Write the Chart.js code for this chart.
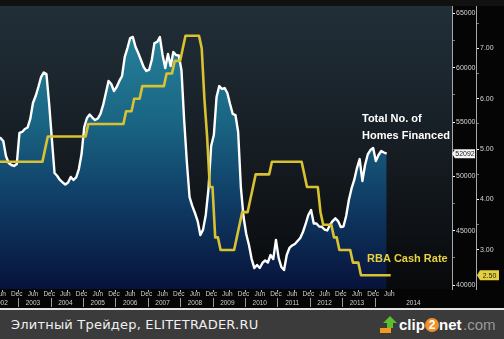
<!DOCTYPE html>
<html><head><meta charset="utf-8">
<script src="https://cdn.jsdelivr.net/npm/chart.js@4/dist/chart.umd.min.js"></script>
<style>
html,body{margin:0;padding:0;background:#000;width:504px;height:339px;overflow:hidden}
#wrap{position:relative;width:504px;height:308px;background:#050505}
#sep{height:2px;background:#e4e4e4}
#banner{position:relative;height:29px;background:#3b3b3b;overflow:hidden}
#bt{position:absolute;left:11px;top:0;line-height:29px;font-family:"DejaVu Sans",sans-serif;font-size:13px;color:#f0f0f0;letter-spacing:0.2px}
#logo{position:absolute;left:380px;top:5px;height:20px;font-family:"Liberation Sans",Arial,sans-serif;font-size:15px;line-height:20px;white-space:nowrap}
#logo svg{position:absolute;left:0;top:1px}
#logo .c{position:absolute;color:#fff;font-weight:bold}
#logo .two{position:absolute;left:45px;top:3px;width:14px;height:14px;border-radius:7px;background:#f0902a;color:#fff;font-weight:bold;font-size:12px;line-height:14px;text-align:center}
#logo .com{position:absolute;left:83px;color:#9a9a9a}
</style></head>
<body>
<div id="wrap"><canvas id="c" width="504" height="308"></canvas></div>
<div id="sep"></div>
<div id="banner">
  <span id="bt">Элитный Трейдер, ELITETRADER.RU</span>
  <div id="logo">
    <svg width="17" height="18" viewBox="0 0 17 18"><rect x="0" y="12" width="11" height="5" fill="#f39a1e"/><polygon points="10,0 17,7 13,7 13,12 7,12 7,7 3,7" fill="#5fbb30"/></svg>
    <span class="c" style="left:19px">clip</span><span class="two">2</span><span class="c" style="left:59px">net</span><span class="com">.com</span>
  </div>
</div>
<script>
// ---- DATA ----
// Total number of homes financed, monthly, starting May 2002
const homesStartYear = 2002, homesStartMonth = 5;
const homesFinanced = [
  53540, 53540, 53260, 51880, 51230, 51050, 50960, 51140,
  54000, 54090, 54370, 54500, 55290, 56760, 57400, 58230, 59150, 59570, 59430, 56670,
  53440, 50310, 50040, 49670, 49440, 49250, 49440, 49950, 49670, 49900, 50680, 52060,
  54550, 55380, 55700, 55420, 55190, 55330, 55750, 56580, 57680, 58790, 58510, 57860,
  58230, 58790, 59250, 61000, 61820, 62740, 62840, 61920, 61360, 60720, 60070, 59710,
  59800, 60720, 62280, 62380, 62840, 61180, 59980, 61270, 60170, 61460, 61180, 61130,
  59800, 55190, 51330, 48100, 47280, 46630, 45890, 44600, 45100, 46450, 48840, 52800,
  53810, 57310, 58320, 58050, 58140, 57680, 56670, 55750, 55650, 54090, 49020, 46260,
  44700, 43680, 42390, 41560, 41840, 41570, 42030, 42260, 42070, 42760, 42390, 44140,
  42490, 41660, 41380, 42760, 43410, 43640, 43780, 44050, 44330, 44880, 45620, 46450,
  46910, 45660, 45660, 45390, 45360, 45110, 45020, 45530, 45890, 46140, 45890, 45340,
  45390, 46350, 47830, 48890, 49670, 50770, 51600, 49580, 51050, 52020, 52430, 52620,
  51420, 51970, 52340, 52200, 52092
];
// RBA cash rate, monthly, starting May 2002
const rateStartYear = 2002, rateStartMonth = 5;
const rbaCashRate = [
  4.50, 4.75, 4.75, 4.75, 4.75, 4.75, 4.75, 4.75,
  4.75, 4.75, 4.75, 4.75, 4.75, 4.75, 4.75, 4.75, 4.75, 4.75, 5.00, 5.25,
  5.25, 5.25, 5.25, 5.25, 5.25, 5.25, 5.25, 5.25, 5.25, 5.25, 5.25, 5.25,
  5.25, 5.25, 5.50, 5.50, 5.50, 5.50, 5.50, 5.50, 5.50, 5.50, 5.50, 5.50,
  5.50, 5.50, 5.50, 5.50, 5.75, 5.75, 5.75, 6.00, 6.00, 6.00, 6.25, 6.25,
  6.25, 6.25, 6.25, 6.25, 6.25, 6.25, 6.25, 6.50, 6.50, 6.50, 6.75, 6.75,
  6.75, 7.00, 7.25, 7.25, 7.25, 7.25, 7.25, 7.25, 7.00, 6.00, 5.25, 4.25,
  4.25, 3.25, 3.25, 3.00, 3.00, 3.00, 3.00, 3.00, 3.00, 3.25, 3.50, 3.75,
  3.75, 3.75, 4.00, 4.25, 4.50, 4.50, 4.50, 4.50, 4.50, 4.50, 4.75, 4.75,
  4.75, 4.75, 4.75, 4.75, 4.75, 4.75, 4.75, 4.75, 4.75, 4.75, 4.50, 4.25,
  4.25, 4.25, 4.25, 4.25, 3.75, 3.50, 3.50, 3.50, 3.50, 3.25, 3.25, 3.00,
  3.00, 3.00, 3.00, 3.00, 2.75, 2.75, 2.75, 2.50, 2.50, 2.50, 2.50, 2.50,
  2.50, 2.50, 2.50, 2.50, 2.50, 2.50, 2.50
];
// axis ticks / labels
const axisYears = [2002, 2003, 2004, 2005, 2006, 2007, 2008, 2009, 2010, 2011, 2012, 2013, 2014];
const halfYearNames = ['Jun', 'Dec'];
const lastYearLabel = '2014';
const homesTicks = [40000, 42500, 45000, 47500, 50000, 52500, 55000, 57500, 60000, 62500, 65000];
const rateTicks = [2.5, 3.0, 3.5, 4.0, 4.5, 5.0, 5.5, 6.0, 6.5, 7.0, 7.5];
const homesTitle = ['Total No. of', 'Homes Financed'];
const rateTitle = 'RBA Cash Rate';

// ---- BUILD ----
const homesPoints = homesFinanced.map((v, i) => ({ x: homesStartYear + (homesStartMonth - 0.5 + i) / 12, y: v }));
const ratePoints = rbaCashRate.map((v, i) => ({ x: rateStartYear + (rateStartMonth - 1 + i) / 12, y: v }));
const xTickValues = [], xTickLabels = [];
axisYears.forEach(y => {
  xTickValues.push(y + 5.5 / 12);
  xTickLabels.push([halfYearNames[0], y === 2014 ? '' : String(y)]);
  if (y < 2014) { xTickValues.push(y + 11.5 / 12); xTickLabels.push([halfYearNames[1], '']); }
});
xTickValues.push(2015.2); xTickLabels.push(['', lastYearLabel]);

const TICKFONT = { family: 'Liberation Sans', size: 7 };

const deco = {
  id: 'deco',
  beforeDraw(chart) {
    const { ctx, chartArea: a } = chart;
    ctx.save();
    ctx.fillStyle = '#111';
    ctx.fillRect(0, 0, chart.width, a.top);
    const g = ctx.createLinearGradient(0, a.top, 0, a.bottom);
    g.addColorStop(0, '#212f39');
    g.addColorStop(0.5, '#161d23');
    g.addColorStop(1, '#08090b');
    ctx.fillStyle = g;
    ctx.fillRect(a.left, a.top, a.right - a.left, a.bottom - a.top);
    ctx.restore();
  },
  afterDraw(chart) {
    const { ctx, chartArea: a, scales } = chart;
    const xs = scales.x, yH = scales.yH, yR = scales.yR;
    ctx.save();
    // year separators
    ctx.strokeStyle = '#9c9c9c'; ctx.lineWidth = 1;
    axisYears.forEach(y => {
      if (y === 2002) return;
      const px = Math.round(xs.getPixelForValue(y)) + 0.5;
      ctx.beginPath(); ctx.moveTo(px, a.bottom + 9); ctx.lineTo(px, a.bottom + 18); ctx.stroke();
    });
    // small half-year tick marks
    ctx.strokeStyle = '#bdbdbd';
    axisYears.forEach(y => {
      [y, y + 0.5].forEach(t => {
        if (t < xs.min || t > 2014.5) return;
        const px = Math.round(xs.getPixelForValue(t)) + 0.5;
        ctx.beginPath(); ctx.moveTo(px, a.bottom + 1); ctx.lineTo(px, a.bottom + 3); ctx.stroke();
      });
    });
    // annotations
    ctx.font = 'bold 11px "Liberation Sans"';
    ctx.textBaseline = 'alphabetic'; ctx.textAlign = 'left';
    ctx.fillStyle = '#ffffff';
    ctx.fillText(homesTitle[0], 362, 122);
    ctx.fillText(homesTitle[1], 362, 138.5);
    ctx.fillStyle = '#e9d23f';
    ctx.fillText(rateTitle, 367, 262);
    // last value boxes
    const lastH = homesFinanced[homesFinanced.length - 1];
    const yh = yH.getPixelForValue(lastH);
    ctx.fillStyle = '#f4f4f4';
    ctx.beginPath();
    ctx.moveTo(452, yh); ctx.lineTo(455, yh - 4.5); ctx.lineTo(475, yh - 4.5); ctx.lineTo(475, yh + 4.5); ctx.lineTo(455, yh + 4.5); ctx.closePath(); ctx.fill();
    ctx.fillStyle = '#222'; ctx.font = '7px "Liberation Sans"'; ctx.textAlign = 'center'; ctx.textBaseline = 'middle';
    ctx.fillText(String(lastH), 465, yh + 0.5);
    const lastR = rbaCashRate[rbaCashRate.length - 1];
    const yr = yR.getPixelForValue(lastR);
    ctx.fillStyle = '#e6cf3c';
    ctx.beginPath();
    ctx.moveTo(477, yr); ctx.lineTo(480, yr - 5); ctx.lineTo(499, yr - 5); ctx.lineTo(499, yr + 5); ctx.lineTo(480, yr + 5); ctx.closePath(); ctx.fill();
    ctx.fillStyle = '#222';
    ctx.fillText(lastR.toFixed(2), 489.5, yr + 0.5);
    ctx.restore();
  }
};

new Chart(document.getElementById('c'), {
  type: 'line',
  data: {
    datasets: [
      {
        label: 'RBA Cash Rate', data: ratePoints, yAxisID: 'yR', xAxisID: 'x',
        borderColor: '#d8c232', borderWidth: 2.6, pointRadius: 0, fill: false, order: 0,
        borderJoinStyle: 'round'
      },
      {
        label: 'Total No. of Homes Financed', data: homesPoints, yAxisID: 'yH', xAxisID: 'x',
        borderColor: '#ffffff', borderWidth: 2.4, pointRadius: 0, fill: 'start', order: 1,
        borderJoinStyle: 'round',
        backgroundColor: (c) => {
          const a = c.chart.chartArea;
          if (!a) return '#1a6682';
          const g = c.chart.ctx.createLinearGradient(0, a.top, 0, a.bottom);
          g.addColorStop(0, '#2a8aa1');
          g.addColorStop(0.4, '#1a6684');
          g.addColorStop(0.7, '#0f3b64');
          g.addColorStop(1, '#07123a');
          return g;
        }
      }
    ]
  },
  options: {
    responsive: false, animation: false, devicePixelRatio: 1,
    layout: { padding: { top: 6, left: 0, right: 0, bottom: 0 } },
    plugins: { legend: { display: false }, tooltip: { enabled: false } },
    scales: {
      x: {
        type: 'linear', position: 'bottom', min: 2002.441, max: 2016.392,
        grid: { display: false, drawTicks: false }, border: { display: false },
        afterBuildTicks: s => { s.ticks = xTickValues.map(v => ({ value: v })); },
        ticks: {
          autoSkip: false, maxRotation: 0, minRotation: 0, padding: 0.5, color: '#cfcfcf',
          font: { family: 'Liberation Sans', size: 6.5, lineHeight: 1.38 },
          callback: (v, i) => xTickLabels[i]
        },
        afterFit: s => { s.height = 19; s.paddingLeft = 0; s.paddingRight = 0; }
      },
      yH: {
        type: 'linear', position: 'right', weight: 0, min: 39632, max: 65691,
        afterBuildTicks: s => { s.ticks = homesTicks.map(v => ({ value: v })); },
        grid: { drawOnChartArea: false, drawTicks: true, tickLength: 3, lineWidth: 1,
          color: c => (c.tick && c.tick.value % 5000 === 0) ? '#ffffff' : '#7a7a7a' },
        border: { display: true, color: '#a8a8a8', width: 1 },
        ticks: { padding: 1, color: '#d6d6d6', font: TICKFONT, autoSkip: false,
          callback: v => (v % 5000 === 0 ? String(v) : '') },
        afterFit: s => { s.width = 24; s.paddingTop = 0; s.paddingBottom = 0; }
      },
      yR: {
        type: 'linear', position: 'right', weight: 1, min: 2.226, max: 7.839,
        afterBuildTicks: s => { s.ticks = rateTicks.map(v => ({ value: v })); },
        grid: { drawOnChartArea: false, drawTicks: true, tickLength: 3, lineWidth: 1,
          color: c => (c.tick && Number.isInteger(c.tick.value)) ? '#ffffff' : '#7a7a7a' },
        border: { display: true, color: '#a8a8a8', width: 1 },
        ticks: { padding: 1, color: '#d6d6d6', font: TICKFONT, autoSkip: false,
          callback: v => (Number.isInteger(v) ? v.toFixed(2) : '') },
        afterFit: s => { s.width = 28; s.paddingTop = 0; s.paddingBottom = 0; }
      }
    }
  },
  plugins: [deco]
});
</script>
</body></html>
